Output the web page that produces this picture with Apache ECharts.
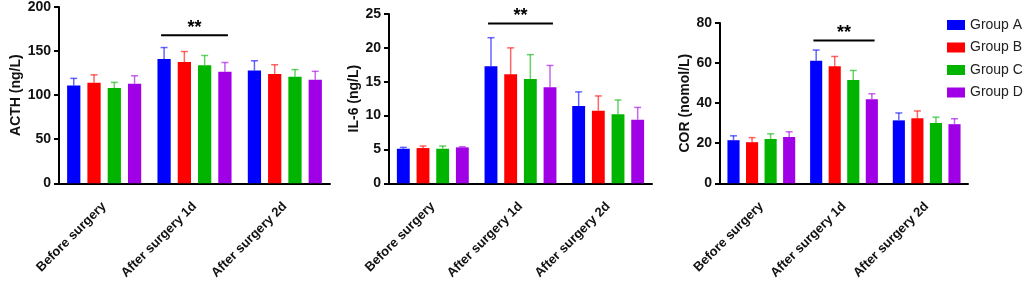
<!DOCTYPE html>
<html>
<head>
<meta charset="utf-8">
<script src="https://cdn.jsdelivr.net/npm/echarts@6/dist/echarts.min.js"></script>
<style>
html, body { margin: 0; padding: 0; background: #fff; }
#main { width: 1026px; height: 282px; }
</style>
</head>
<body>
<div id="main"></div>
<script>
// categories and groups
var categories = ['Before surgery', 'After surgery 1d', 'After surgery 2d'];
var groups = ['Group A', 'Group B', 'Group C', 'Group D'];
var colors = ['#0000ff', '#ff0000', '#00b400', '#a000e6'];

// means (one row per group) and top of error bar
var acthMean = [[111, 141, 128], [114, 137.5, 124], [108, 134, 121], [113, 126.5, 117.5]];
var acthErr  = [[119, 154, 139], [123, 149.5, 134.5], [114.5, 145, 129], [122, 137, 127]];
var il6Mean  = [[5.1, 17.3, 11.4], [5.2, 16.1, 10.7], [5.1, 15.4, 10.2], [5.3, 14.2, 9.4]];
var il6Err   = [[5.3, 21.5, 13.5], [5.5, 20.0, 12.9], [5.5, 19.0, 12.3], [5.4, 17.4, 11.2]];
var corMean  = [[21.5, 61.1, 31.4], [20.5, 58.4, 32.4], [22.1, 51.5, 30.1], [23.1, 42.0, 29.5]];
var corErr   = [[23.7, 66.5, 35.1], [22.8, 63.3, 36.1], [24.7, 56.3, 33.0], [25.7, 44.7, 32.2]];

// significance marks: [category index, value]
var sigMarks = [[1, 168], [1, 23.6], [1, 71.3]];

var yNames = ['ACTH (ng/L)', 'IL-6 (ng/L)', 'COR (nomol/L)'];
var yMax = [200, 25, 80];
var yStep = [50, 5, 20];
var yNameGap = [36, 26, 27];

var CAT_GAP = 0.18, BAR_GAP = 0.53;
var FONT = 'Liberation Sans, Arial, sans-serif';

var chart = echarts.init(document.getElementById('main'));

function errItem(gi, color) {
	return function(params, api) {
		var c = api.value(0);
		var W = api.size([1, 0])[0];
		var inner = W * (1 - CAT_GAP);
		var w = inner / (4 + 3 * BAR_GAP);
		var p0 = api.coord([c, api.value(1)]);
		var p1 = api.coord([c, api.value(2)]);
		var x = p0[0] - inner / 2 + gi * w * (1 + BAR_GAP) + w / 2;
		var st = { stroke: color, lineWidth: 1.5, opacity: 0.6 };
		return {
			type: 'group',
			children: [
				{ type: 'line', shape: { x1: x, y1: p0[1], x2: x, y2: p1[1] }, style: st },
				{ type: 'line', shape: { x1: x - 3.5, y1: p1[1], x2: x + 3.5, y2: p1[1] }, style: st }
			]
		};
	};
}

function sigItem(params, api) {
	var p = api.coord([api.value(0), api.value(1)]);
	var half = api.size([1, 0])[0] * 0.37;
	return {
		type: 'group',
		children: [
			{ type: 'line', shape: { x1: p[0] - half, y1: p[1], x2: p[0] + half, y2: p[1] },
			  style: { stroke: '#000', lineWidth: 2 } },
			{ type: 'text', x: p[0], y: p[1] + 2,
			  style: { text: '**', fill: '#000', font: 'bold 18px ' + FONT, align: 'center', verticalAlign: 'bottom' } }
		]
	};
}

var grids = [
	{ left: 59, top: 7, width: 271, height: 177 },
	{ left: 389, top: 14, width: 263, height: 174 },
	{ left: 720, top: 23, width: 248, height: 166 }
];

var xAxes = [], yAxes = [], series = [];
var means = [acthMean, il6Mean, corMean];
var errs = [acthErr, il6Err, corErr];

for (var k = 0; k < 3; k++) {
	xAxes.push({
		type: 'category', gridIndex: k, data: categories,
		axisLine: { lineStyle: { color: '#000', width: 2 } },
		axisTick: { alignWithLabel: true, length: 6, lineStyle: { color: '#000', width: 2 } },
		axisLabel: { rotate: 45, margin: 21, color: '#111', fontWeight: 'bold', fontSize: 13, fontFamily: FONT }
	});
	yAxes.push({
		type: 'value', gridIndex: k, min: 0, max: yMax[k], interval: yStep[k],
		name: yNames[k], nameLocation: 'middle', nameGap: yNameGap[k],
		nameTextStyle: { color: '#111', fontWeight: 'bold', fontSize: 14, fontFamily: FONT },
		splitLine: { show: false },
		axisLine: { show: true, lineStyle: { color: '#000', width: 2 } },
		axisTick: { show: true, length: 5, lineStyle: { color: '#000', width: 2 } },
		axisLabel: { margin: 8, color: '#111', fontWeight: 'bold', fontSize: 14, fontFamily: FONT }
	});
	for (var g = 0; g < 4; g++) {
		series.push({
			name: groups[g], type: 'bar', xAxisIndex: k, yAxisIndex: k,
			barCategoryGap: (CAT_GAP * 100) + '%', barGap: (BAR_GAP * 100) + '%',
			itemStyle: { color: colors[g] },
			data: means[k][g]
		});
		var ed = [];
		for (var c = 0; c < 3; c++) ed.push([c, means[k][g][c], errs[k][g][c]]);
		series.push({
			type: 'custom', xAxisIndex: k, yAxisIndex: k, z: 3,
			renderItem: errItem(g, colors[g]),
			data: ed
		});
	}
	series.push({
		type: 'custom', xAxisIndex: k, yAxisIndex: k, z: 4,
		renderItem: sigItem,
		data: [sigMarks[k]]
	});
}

chart.setOption({
	animation: false,
	color: colors,
	legend: {
		data: groups, orient: 'vertical', left: 942, top: 13,
		icon: 'rect', itemWidth: 18, itemHeight: 10, itemGap: 8.5,
		textStyle: { color: '#222', fontSize: 14, fontFamily: FONT }
	},
	grid: grids,
	xAxis: xAxes,
	yAxis: yAxes,
	series: series
});
</script>
</body>
</html>
